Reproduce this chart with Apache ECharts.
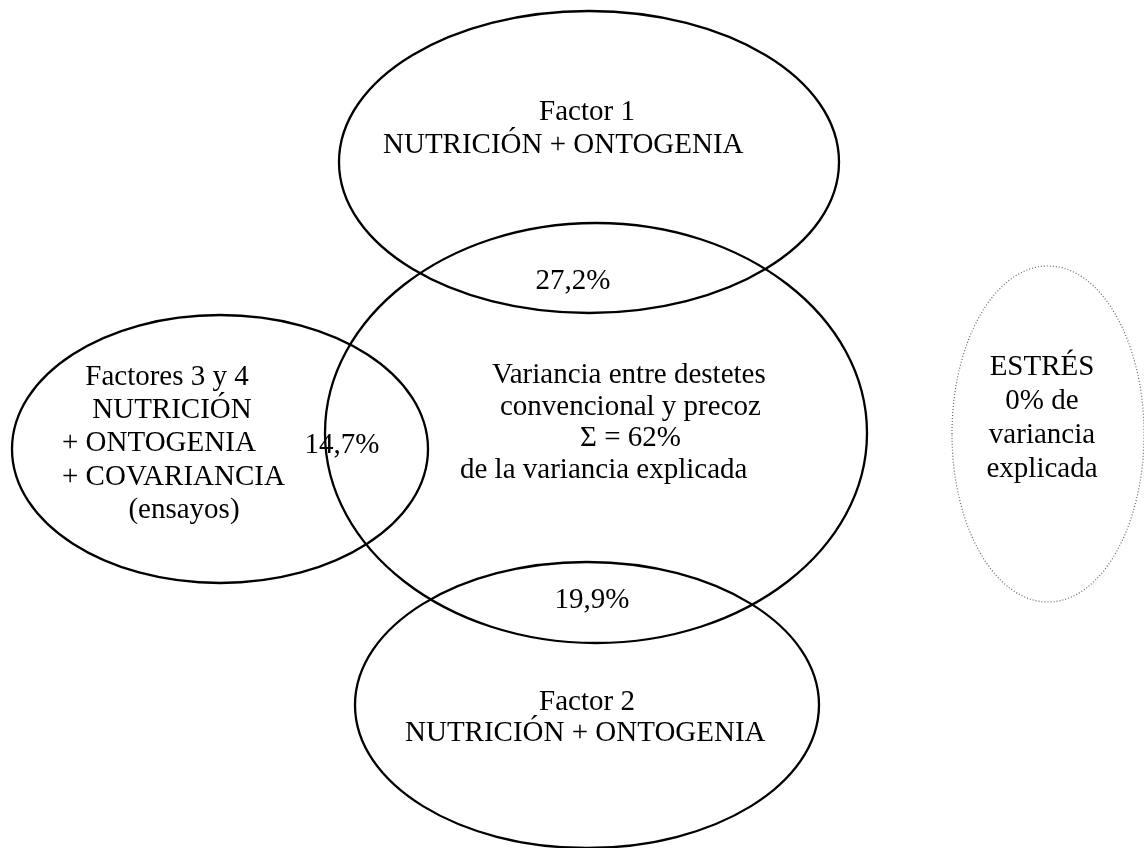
<!DOCTYPE html>
<html>
<head>
<meta charset="utf-8">
<title>Variancia explicada</title>
<script src="https://cdn.jsdelivr.net/npm/echarts@6/dist/echarts.min.js"></script>
<style>
  html, body { margin: 0; padding: 0; background: #fff; }
  #chart { width: 1144px; height: 848px; }
</style>
</head>
<body>
<div id="chart"></div>
<script>
// ellipses of the diagram, in page-like units (x right, y down)
const setNames = ['Factor 1', 'Variancia', 'Factores 3 y 4', 'Factor 2', 'Estrés']
const setCx = [589, 596, 220, 587, 1048]
const setCy = [162, 433, 449, 705, 434]
const setRx = [250, 271, 208, 232, 96]
const setRy = [151, 210, 134, 143, 168]

// texts, one line each
const labelTexts = [
  'Factor 1', 'NUTRICIÓN + ONTOGENIA',
  '27,2%',
  'Factores 3 y 4', 'NUTRICIÓN', '+ ONTOGENIA', '+ COVARIANCIA', '(ensayos)',
  '14,7%',
  'Variancia entre destetes', 'convencional y precoz', 'Σ = 62%', 'de la variancia explicada',
  '19,9%',
  'Factor 2', 'NUTRICIÓN + ONTOGENIA',
  'ESTRÉS', '0% de', 'variancia', 'explicada'
]
const labelX = [587, 383, 573, 167, 172, 62, 62, 184, 342, 492, 500, 580, 460, 592, 587, 405, 1042, 1042, 1042, 1042]
const labelY = [112, 145, 281, 377, 410, 443, 477, 510, 445, 375, 407, 438, 470, 600, 702, 733, 367, 401, 435, 469]
const labelAlign = ['center', 'left', 'center', 'center', 'center', 'left', 'left', 'center', 'center',
  'left', 'left', 'left', 'left', 'center', 'center', 'left', 'center', 'center', 'center', 'center']

const chart = echarts.init(document.getElementById('chart'))

const ellipseData = setNames.map((n, i) => [setCx[i], setCy[i], setRx[i], setRy[i], n])
const textData = labelTexts.map((t, i) => [labelX[i], labelY[i], t, labelAlign[i]])

chart.setOption({
  animation: false,
  backgroundColor: '#fff',
  grid: { left: 0, right: 0, top: 0, bottom: 0 },
  xAxis: { type: 'value', min: 0, max: 1144, show: false },
  yAxis: { type: 'value', min: 0, max: 848, inverse: true, show: false },
  series: [
    {
      type: 'custom',
      data: ellipseData,
      silent: true,
      clip: false,
      renderItem(params, api) {
        const c = api.coord([api.value(0), api.value(1)])
        const s = api.size([api.value(2), api.value(3)])
        const dotted = params.dataIndex === setNames.length - 1
        return {
          type: 'ellipse',
          shape: { cx: c[0], cy: c[1], rx: s[0], ry: s[1] },
          style: {
            fill: null,
            stroke: dotted ? '#666' : '#000',
            lineWidth: dotted ? 1.2 : 2.3,
            lineDash: dotted ? [1, 2] : null
          }
        }
      }
    },
    {
      type: 'custom',
      data: textData,
      silent: true,
      clip: false,
      renderItem(params, api) {
        const c = api.coord([api.value(0), api.value(1)])
        const d = textData[params.dataIndex]
        return {
          type: 'text',
          x: c[0],
          y: c[1],
          style: {
            text: d[2],
            fill: '#000',
            font: '29px "Liberation Serif", "Times New Roman", serif',
            align: d[3],
            verticalAlign: 'middle'
          }
        }
      }
    }
  ]
})
</script>
</body>
</html>
